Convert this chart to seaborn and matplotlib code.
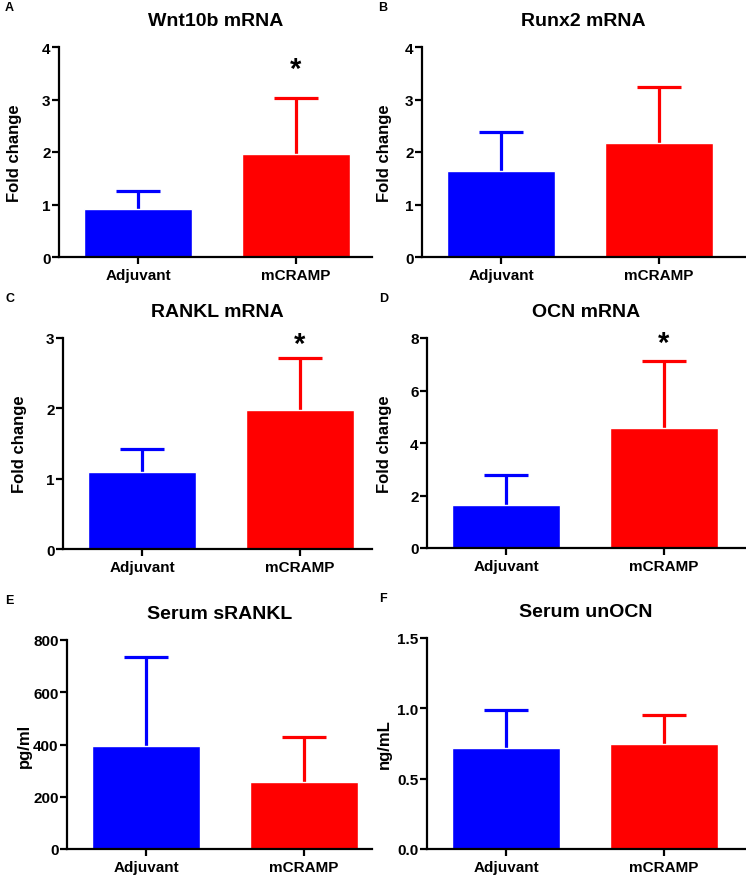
import numpy as np
import pandas as pd
import matplotlib
matplotlib.use("Agg")
import matplotlib.pyplot as plt
import seaborn as sns

# Data (bar = mean, whisker = upper SD)
GROUPS = ["Adjuvant", "mCRAMP"]
COLORS = {"Adjuvant": "#0000FF", "mCRAMP": "#FF0000"}

wnt10b_mean = [0.91, 1.97]
wnt10b_sd = [0.34, 1.05]
runx2_mean = [1.63, 2.18]
runx2_sd = [0.76, 1.05]
rankl_mean = [1.10, 1.98]
rankl_sd = [0.32, 0.73]
ocn_mean = [1.65, 4.56]
ocn_sd = [1.14, 2.57]
srankl_mean = [395, 258]
srankl_sd = [340, 172]
unocn_mean = [0.72, 0.745]
unocn_sd = [0.27, 0.205]

# Layout in pixels: letter, title, ylabel, means, sds, yticks, tick fmt,
# axes box (left, right, top, bottom), ylabel x, letter x, star height (data units)
PANELS = [
    ("A", "Wnt10b mRNA", "Fold change", wnt10b_mean, wnt10b_sd, [0, 1, 2, 3, 4], "{:.0f}",
     (59, 372, 48, 258), 13, 5, 3.58),
    ("B", "Runx2 mRNA", "Fold change", runx2_mean, runx2_sd, [0, 1, 2, 3, 4], "{:.0f}",
     (422, 745, 48, 258), 383, 378, None),
    ("C", "RANKL mRNA", "Fold change", rankl_mean, rankl_sd, [0, 1, 2, 3], "{:.0f}",
     (63, 372, 339, 550), 18, 5, 2.92),
    ("D", "OCN mRNA", "Fold change", ocn_mean, ocn_sd, [0, 2, 4, 6, 8], "{:.0f}",
     (427, 745, 339, 549), 383, 379, 7.83),
    ("E", "Serum sRANKL", "pg/ml", srankl_mean, srankl_sd, [0, 200, 400, 600, 800], "{:.0f}",
     (67, 372, 641, 850), 23, 5, None),
    ("F", "Serum unOCN", "ng/mL", unocn_mean, unocn_sd, [0.0, 0.5, 1.0, 1.5], "{:.1f}",
     (427, 745, 639, 850), 383, 379, None),
]

W, H = 746, 878
CAT_PX = 158  # pixels per category unit

sns.set_theme(style="ticks")
plt.rcParams["font.family"] = ["Liberation Sans", "DejaVu Sans"]
plt.rcParams.update({
    "font.weight": "bold",
    "axes.titleweight": "bold",
    "axes.labelweight": "bold",
    "text.color": "black",
    "axes.labelcolor": "black",
    "axes.edgecolor": "black",
    "xtick.color": "black",
    "ytick.color": "black",
})

fig = plt.figure(figsize=(W / 100, H / 100), dpi=100)

for letter, title, ylabel, means, sds, yticks, fmt, box, ylab_x, let_x, star_y in PANELS:
    left, right, top, bottom = box
    ax = fig.add_axes([left / W, 1 - bottom / H, (right - left) / W, (bottom - top) / H])

    df = pd.DataFrame({"group": GROUPS, "value": means})
    sns.barplot(data=df, x="group", y="value", hue="group", palette=COLORS,
                width=0.68, errorbar=None, legend=False, saturation=1, ax=ax, zorder=2)

    # upper-only SD whiskers
    for i, g in enumerate(GROUPS):
        _, caps, _ = ax.errorbar(i, means[i], yerr=[[0], [sds[i]]], fmt="none",
                                 ecolor=COLORS[g], elinewidth=2.3, capsize=16,
                                 capthick=2.3, zorder=1)
        for c in caps:
            if np.all(c.get_ydata() <= means[i]):
                c.set_visible(False)

    ax.set_xlim(-0.5, (right - left) / CAT_PX - 0.5)
    ax.set_ylim(yticks[0], yticks[-1])
    ax.set_yticks(yticks)
    ax.set_yticklabels([fmt.format(t) for t in yticks])
    ax.set_xlabel("")
    ax.set_ylabel(ylabel, fontsize=12)
    ax.yaxis.set_label_coords((ylab_x + 9 - left) / (right - left), 0.5)
    ax.set_title(title, fontsize=14, pad=16)

    ax.tick_params(axis="both", labelsize=11, width=1.6, length=5, direction="out")
    ax.tick_params(axis="y", pad=1)
    ax.tick_params(axis="x", pad=3)
    for s in ["left", "bottom"]:
        ax.spines[s].set_linewidth(1.6)
    sns.despine(ax=ax)

    if star_y is not None:
        ax.text(1, star_y, "*", ha="center", va="center", fontsize=21,
                fontweight="bold", clip_on=False)

    fig.text(let_x / W, 1 - (top - 40) / H, letter, fontsize=9, fontweight="bold",
             ha="left", va="center")

fig.savefig("out.png", dpi=100)
